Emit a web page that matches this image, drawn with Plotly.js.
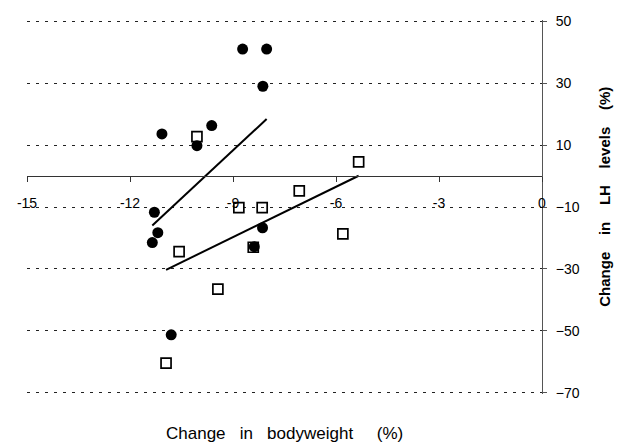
<!DOCTYPE html>
<html>
<head>
<meta charset="utf-8">
<script src="https://cdn.plot.ly/plotly-3.0.1.min.js"></script>
<style>html,body{margin:0;padding:0;background:#fff;}#chart{width:624px;height:445px;}</style>
</head>
<body>
<div id="chart"></div>
<script>
// Filled circles
const circleX = [-8.72, -8.02, -8.13, -9.62, -11.07, -10.05, -11.29, -11.19, -11.35, -8.14, -8.38, -10.8];
const circleY = [41, 41, 29, 16.3, 13.6, 9.8, -11.7, -18.3, -21.5, -16.7, -22.8, -51.3];
// Open squares
const squareX = [-10.05, -7.07, -8.83, -8.15, -5.34, -5.8, -10.57, -8.41, -9.44, -10.95];
const squareY = [12.7, -4.8, -10.2, -10.2, 4.6, -18.7, -24.4, -23, -36.5, -60.4];
// Regression line endpoints
const fitCircleX = [-11.35, -8.02];
const fitCircleY = [-16, 18.4];
const fitSquareX = [-10.95, -5.34];
const fitSquareY = [-30.3, 0.1];
// Ticks
const xTicks = [-15, -12, -9, -6, -3, 0];
const yTicks = [-70, -50, -30, -10, 10, 30, 50];

const s = n => '\u00a0'.repeat(n);
const yMin = -70.4, yMax = 50.4;
const data = [
  {x: fitCircleX, y: fitCircleY, mode: 'lines', line: {color: '#000', width: 2}, hoverinfo: 'skip'},
  {x: fitSquareX, y: fitSquareY, mode: 'lines', line: {color: '#000', width: 2}, hoverinfo: 'skip'},
  {x: squareX, y: squareY, mode: 'markers', marker: {symbol: 'square-open', size: 10, color: '#000', line: {width: 1.7, color: '#000'}}},
  {x: circleX, y: circleY, mode: 'markers', marker: {symbol: 'circle', size: 11, color: '#000'}}
];

const layout = {
  width: 624, height: 445,
  margin: {l: 27, r: 82, t: 20, b: 51},
  paper_bgcolor: '#fff', plot_bgcolor: '#fff',
  showlegend: false,
  font: {family: 'Liberation Sans, Arial, sans-serif', size: 14, color: '#000'},
  xaxis: {
    range: [-15, 0], tickvals: xTicks, ticktext: xTicks.map(String),
    anchor: 'free', position: (0 - yMin) / (yMax - yMin),
    showline: true, linecolor: '#333', linewidth: 1,
    ticks: 'outside', ticklen: 5, tickcolor: '#333',
    ticklabelstandoff: 9,
    showgrid: false, zeroline: false,
    tickfont: {size: 14}
  },
  yaxis: {
    range: [yMin, yMax], tickvals: yTicks, side: 'right',
    showline: true, linecolor: '#555', linewidth: 1,
    ticks: 'outside', ticklen: 4, tickcolor: '#555',
    ticklabelstandoff: 6,
    showgrid: true, gridcolor: '#222', gridwidth: 1, griddash: '3px,6px',
    zeroline: false,
    tickfont: {size: 14}
  },
  annotations: [{
    xref: 'paper', yref: 'paper', x: 0.5, y: -0.105, yanchor: 'middle', showarrow: false,
    text: 'Change' + s(3) + 'in' + s(3) + 'bodyweight' + s(5) + '(%)',
    font: {size: 17, family: 'Liberation Sans, Arial, sans-serif'}
  }, {
    xref: 'paper', yref: 'paper', x: 1.122, y: 0.527, xanchor: 'center', yanchor: 'middle', showarrow: false,
    textangle: -90,
    text: '<b>Change' + s(4) + 'in' + s(4) + 'LH' + s(4) + 'levels' + s(4) + '(%)</b>',
    font: {size: 15, family: 'Liberation Sans, Arial, sans-serif'}
  }]
};

Plotly.newPlot('chart', data, layout, {staticPlot: true});
</script>
</body>
</html>
